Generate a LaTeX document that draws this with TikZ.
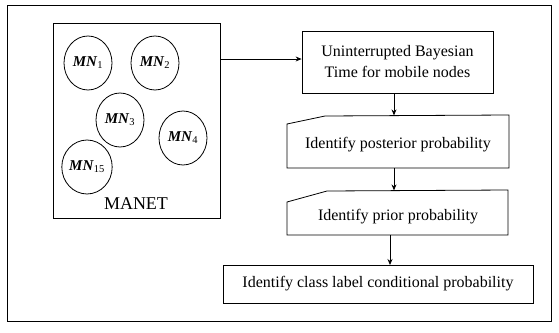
\documentclass[tikz,border=0pt]{standalone}
\usepackage{fontspec}
\setmainfont{Liberation Serif}
\usetikzlibrary{shapes.geometric,arrows.meta}
\begin{document}
\begin{tikzpicture}[x=1pt,y=-1pt,
  line/.style={draw=black,line width=0.8pt},
  arr/.style={line,-{Stealth[length=6pt,width=5pt]}},
  mn/.style={ellipse,draw=black,line width=0.8pt,minimum width=48pt,minimum height=54pt,inner sep=0pt,font=\fontsize{15}{17}\selectfont},
  lbl/.style={font=\fontsize{16}{21}\selectfont,align=center,inner sep=0pt},
  boxn/.style={draw=black,line width=0.8pt,inner sep=0pt,font=\fontsize{16}{21}\selectfont,align=center}
]
\useasboundingbox (0,0) rectangle (559,332);
% outer frame
\draw[line width=1pt] (7,5) rectangle (551,321);
% MANET box
\node[draw=black,line width=0.8pt,minimum width=167pt,minimum height=195pt,inner sep=0pt] (manet) at (136.5,120.5) {};
\node[mn] (mn1) at (88,63) {\textbf{\textit{MN}}\textsubscript{1}};
\node[mn] (mn2) at (155,63) {\textbf{\textit{MN}}\textsubscript{2}};
\node[mn] (mn3) at (120,120) {\textbf{\textit{MN}}\textsubscript{3}};
\node[mn] (mn4) at (183,138) {\textbf{\textit{MN}}\textsubscript{4}};
\node[mn] (mn15) at (87,167) {\textbf{\textit{MN}}\textsubscript{15}};
\node[lbl,font=\fontsize{18}{20}\selectfont] (mtext) at (136,204) {MANET};
% box 1
\node[boxn,minimum width=191pt,minimum height=62pt] (b1) at (397.5,62) {Uninterrupted Bayesian\\Time for mobile nodes};
% box 2 (manual input)
\coordinate (b2tl) at (287,124);
\coordinate (b2k) at (325,116);
\coordinate (b2tr) at (509,115);
\coordinate (b2br) at (509,168);
\coordinate (b2bl) at (287,168);
\draw[line] (b2tl) -- (b2k) -- (b2tr) -- (b2br) -- (b2bl) -- cycle;
\node[lbl] (b2) at (398,145) {Identify posterior probability};
\coordinate (b2in) at (394,115.4);
\coordinate (b2out) at (394,168);
% box 3 (manual input)
\coordinate (b3tl) at (287,202);
\coordinate (b3k) at (327,191);
\coordinate (b3tr) at (508,190);
\coordinate (b3br) at (508,235);
\coordinate (b3bl) at (287,235);
\draw[line] (b3tl) -- (b3k) -- (b3tr) -- (b3br) -- (b3bl) -- cycle;
\node[lbl] (b3) at (398,217) {Identify prior probability};
\coordinate (b3in) at (394,190.4);
\coordinate (b3out) at (390,235);
% box 4
\node[boxn,minimum width=310pt,minimum height=38pt] (b4) at (378,284) {Identify class label conditional probability};
\coordinate (b4in) at (390,265);
% connectors
\draw[arr] (manet.east |- 0,59) -- (b1.west |- 0,59);
\draw[arr] (b1.south -| b2in) -- (b2in);
\draw[arr] (b2out) -- (b3in);
\draw[arr] (b3out) -- (b4in);
\end{tikzpicture}
\end{document}
